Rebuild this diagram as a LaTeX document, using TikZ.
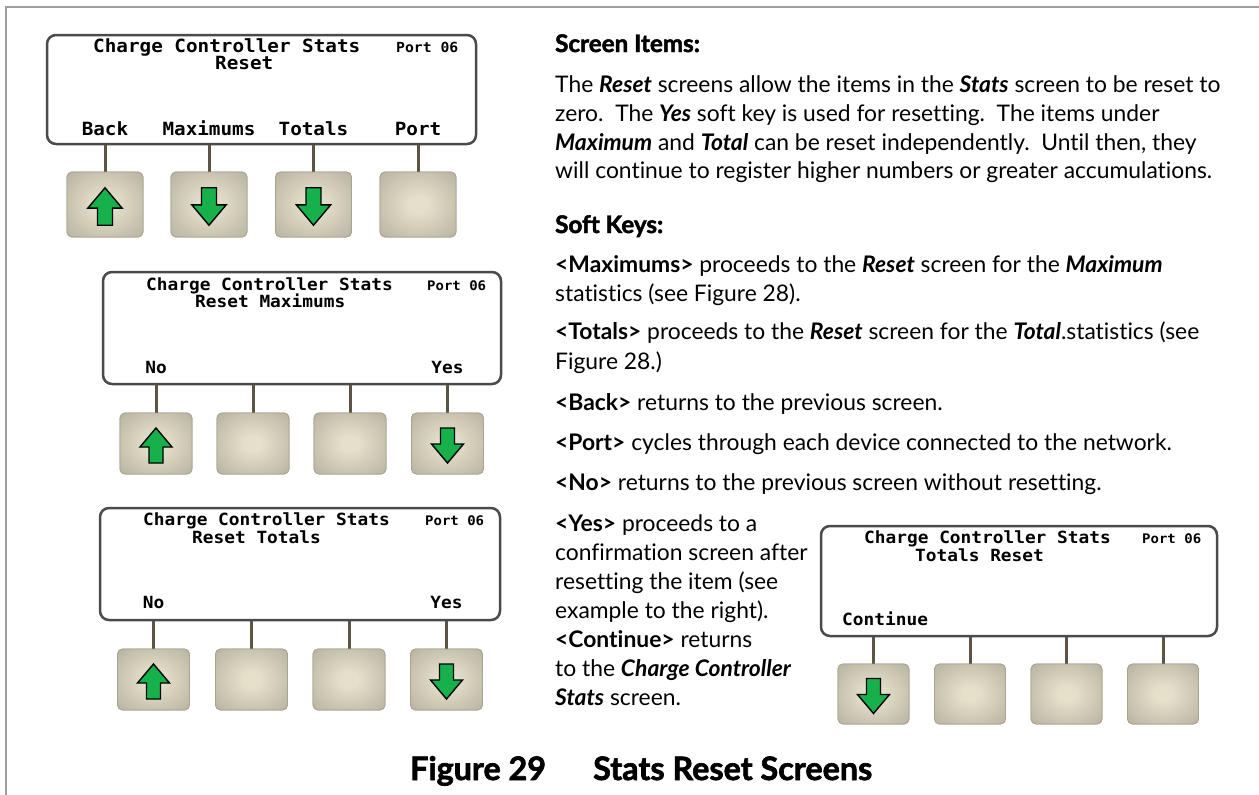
\documentclass[tikz,border=0pt]{standalone}
\usepackage{fontspec}
\setmainfont{Lato}[Ligatures=NoCommon]
\newfontfamily\heavy{Lato}[Ligatures=NoCommon, BoldFeatures={FakeBold=2}]
\newfontfamily\lcd[FakeStretch=1.06]{DejaVu Sans Mono}
\definecolor{framec}{HTML}{9E9E9E}
\definecolor{scrline}{HTML}{4A4A4A}
\definecolor{stemc}{HTML}{5C5445}
\definecolor{btnout}{HTML}{B3AF9D}
\definecolor{btnin}{HTML}{E4E0CA}
\definecolor{btnedge}{HTML}{A8A492}
\definecolor{arrgreen}{HTML}{17B14B}
\pgfdeclareradialshading{btnshade}{\pgfpoint{0bp}{0bp}}{color(0bp)=(btnin); color(6bp)=(btnin); color(38bp)=(btnout); color(50bp)=(btnout)}
\newlength\fitlen
\newcommand\fitsize[3]{\settowidth{\fitlen}{\normalfont\fontsize{10pt}{12pt}\selectfont #3}\pgfmathsetmacro#1{10*#2/\fitlen}}
\newcommand\bi[1]{\textbf{\textit{#1}}}
\tikzset{
  arrowpath/.style={fill=arrgreen, draw=black, line width=1.4pt, line join=miter},
  uparr/.pic={\path[arrowpath] (0,-17.5) -- (16,1.5) -- (7,1.5) -- (7,17.5) -- (-7,17.5) -- (-7,1.5) -- (-16,1.5) -- cycle;},
  downarr/.pic={\path[arrowpath] (0,17.5) -- (16,-1.5) -- (7,-1.5) -- (7,-17.5) -- (-7,-17.5) -- (-7,-1.5) -- (-16,-1.5) -- cycle;}
}
\begin{document}
\fitsize\bodysz{657}{will continue to register higher numbers or greater accumulations.}%
\fitsize\headsz{108}{\heavy\bfseries Soft Keys:}%
\fitsize\capsz{279}{\heavy\bfseries Stats Reset Screens}%
\begin{tikzpicture}[x=1pt,y=-1pt,
  screen/.style={draw=scrline, line width=2.5pt, rounded corners=9pt, fill=white, inner sep=0pt},
  btn/.style={draw=btnedge, line width=0.8pt, rounded corners=5pt, shade, shading=btnshade, inner sep=0pt},
  stemline/.style={draw=stemc, line width=3pt},
  lcdA/.style={anchor=base west, inner sep=0pt, font=\lcd\bfseries\fontsize{18.2pt}{19pt}\selectfont},
  lcdB/.style={anchor=base west, inner sep=0pt, font=\lcd\bfseries\fontsize{16.8pt}{18pt}\selectfont},
  portA/.style={anchor=base west, inner sep=0pt, font=\lcd\bfseries\fontsize{13.9pt}{15pt}\selectfont},
  portB/.style={anchor=base west, inner sep=0pt, font=\lcd\bfseries\fontsize{13.2pt}{14pt}\selectfont},
  body/.style={anchor=base west, inner sep=0pt, font=\fontsize{\bodysz pt}{\bodysz pt}\selectfont},
  head/.style={anchor=base west, inner sep=0pt, font=\heavy\bfseries\fontsize{\headsz pt}{\headsz pt}\selectfont},
  capt/.style={anchor=base west, inner sep=0pt, font=\heavy\bfseries\fontsize{\capsz pt}{\capsz pt}\selectfont}
]
\useasboundingbox (0,0) rectangle (1259,795);
\fill[white] (0,0) rectangle (1259,795);
% frame
\draw[framec, line width=2.5pt] (6,795) -- (6,7) -- (1259,7);

% ===== Screen 1 =====
\node[screen, minimum width=429pt, minimum height=109pt] (s1) at (261.5,89.5) {};
\node[lcdA] (s1t) at (93,52) {Charge Controller Stats};
\node[portA] (s1p) at (396,52) {Port 06};
\node[lcdA] (s1r) at (215,69) {Reset};
\foreach \i/\x in {1/105,2/209,3/313.5,4/418} {
  \node[btn, minimum width=76pt, minimum height=65pt] (b1\i) at (\x,204.5) {};
}
\foreach \i in {1,2,3,4} { \draw[stemline] (b1\i.north) -- (b1\i.north |- s1.south); }
\foreach \i in {1,2,3,4} { \node[btn, minimum width=76pt, minimum height=65pt] at (b1\i) {}; }
\node[lcdA, anchor=base] (l11) at (b11.center |- 0,135) {Back};
\node[lcdA, anchor=base] (l12) at (b12.center |- 0,135) {Maximums};
\node[lcdA, anchor=base] (l13) at (b13.center |- 0,135) {Totals};
\node[lcdA, anchor=base] (l14) at (b14.center |- 0,135) {Port};
\pic[scale=1.07] at ([yshift=-2pt]b11.center) {uparr};
\pic[scale=1.07] at ([yshift=-2pt]b12.center) {downarr};
\pic[scale=1.07] at ([yshift=-2pt]b13.center) {downarr};

% ===== Screen 2 =====
\node[screen, minimum width=398pt, minimum height=112pt] (s2) at (302,328) {};
\node[lcdB] (s2t) at (146,290) {Charge Controller Stats};
\node[portB] (s2p) at (427,290) {Port 06};
\node[lcdB] (s2r) at (195,307) {Reset Maximums};
\foreach \i/\x in {1/156,2/253,3/350,4/447.5} {
  \node[btn, minimum width=72pt, minimum height=61pt] (b2\i) at (\x,443.5) {};
}
\foreach \i in {1,2,3,4} { \draw[stemline] (b2\i.north) -- (b2\i.north |- s2.south); }
\foreach \i in {1,2,3,4} { \node[btn, minimum width=72pt, minimum height=61pt] at (b2\i) {}; }
\node[lcdB, anchor=base] (l21) at (b21.center |- 0,373) {No};
\node[lcdB, anchor=base] (l24) at (b24.center |- 0,373) {Yes};
\pic at ([yshift=-2pt]b21.center) {uparr};
\pic at ([yshift=-2pt]b24.center) {downarr};

% ===== Screen 3 =====
\node[screen, minimum width=400pt, minimum height=112pt] (s3) at (300,564) {};
\node[lcdB] (s3t) at (143,525) {Charge Controller Stats};
\node[portB] (s3p) at (425,525) {Port 06};
\node[lcdB] (s3r) at (192,543) {Reset Totals};
\foreach \i/\x in {1/153.5,2/251.5,3/349,4/446.5} {
  \node[btn, minimum width=72pt, minimum height=61pt] (b3\i) at (\x,679.5) {};
}
\foreach \i in {1,2,3,4} { \draw[stemline] (b3\i.north) -- (b3\i.north |- s3.south); }
\foreach \i in {1,2,3,4} { \node[btn, minimum width=72pt, minimum height=61pt] at (b3\i) {}; }
\node[lcdB, anchor=base] (l31) at (b31.center |- 0,608) {No};
\node[lcdB, anchor=base] (l34) at (b34.center |- 0,608) {Yes};
\pic at ([yshift=-2pt]b31.center) {uparr};
\pic at ([yshift=-2pt]b34.center) {downarr};

% ===== Screen 4 =====
\node[screen, minimum width=396pt, minimum height=110pt] (s4) at (1019,581) {};
\node[lcdB] (s4t) at (864,543) {Charge Controller Stats};
\node[portB] (s4p) at (1142,543) {Port 06};
\node[lcdB] (s4r) at (915,561) {Totals Reset};
\foreach \i/\x in {1/873.5,2/970,3/1066.5,4/1163} {
  \node[btn, minimum width=71pt, minimum height=60pt] (b4\i) at (\x,694) {};
}
\foreach \i in {1,2,3,4} { \draw[stemline] (b4\i.north) -- (b4\i.north |- s4.south); }
\foreach \i in {1,2,3,4} { \node[btn, minimum width=71pt, minimum height=60pt] at (b4\i) {}; }
\node[lcdB] (l41) at (842,625) {Continue};
\pic at ([yshift=-2pt]b41.center) {downarr};

% ===== Right column text =====
\node[head] (h1) at (555,52) {Screen Items:};
\node[body] (p1) at (555,92) {The \bi{Reset} screens allow the items in the \bi{Stats} screen to be reset to};
\node[body] (p2) at (555,121) {zero.~~The \bi{Yes} soft key is used for resetting.~~The items under};
\node[body] (p3) at (555,150) {\bi{Maximum} and \bi{Total} can be reset independently.~~Until then, they};
\node[body] (p4) at (555,178) {will continue to register higher numbers or greater accumulations.};
\node[head] (h2) at (555,233) {Soft Keys:};
\node[body] (k1) at (555,272) {\textbf{<Maximums>} proceeds to the \bi{Reset} screen for the \bi{Maximum}};
\node[body] (k2) at (555,301) {statistics (see Figure 28).};
\node[body] (k3) at (555,339) {\textbf{<Totals>} proceeds to the \bi{Reset} screen for the \bi{Total}.statistics (see};
\node[body] (k4) at (555,369) {Figure 28.)};
\node[body] (k5) at (555,410) {\textbf{<Back>} returns to the previous screen.};
\node[body] (k6) at (555,450) {\textbf{<Port>} cycles through each device connected to the network.};
\node[body] (k7) at (555,490) {\textbf{<No>} returns to the previous screen without resetting.};
\node[body] (k8) at (555,531) {\textbf{<Yes>} proceeds to a};
\node[body] (k9) at (555,560) {confirmation screen after};
\node[body] (k10) at (555,589) {resetting the item (see};
\node[body] (k11) at (555,618) {example to the right).};
\node[body] (k12) at (555,647) {\textbf{<Continue>} returns};
\node[body] (k13) at (555,676) {to the \bi{Charge Controller}};
\node[body] (k14) at (555,705) {\bi{Stats} screen.};

% ===== Caption =====
\node[capt] (c1) at (410,780) {Figure 29};
\node[capt] (c2) at (593,780) {Stats Reset Screens};
\end{tikzpicture}
\end{document}
